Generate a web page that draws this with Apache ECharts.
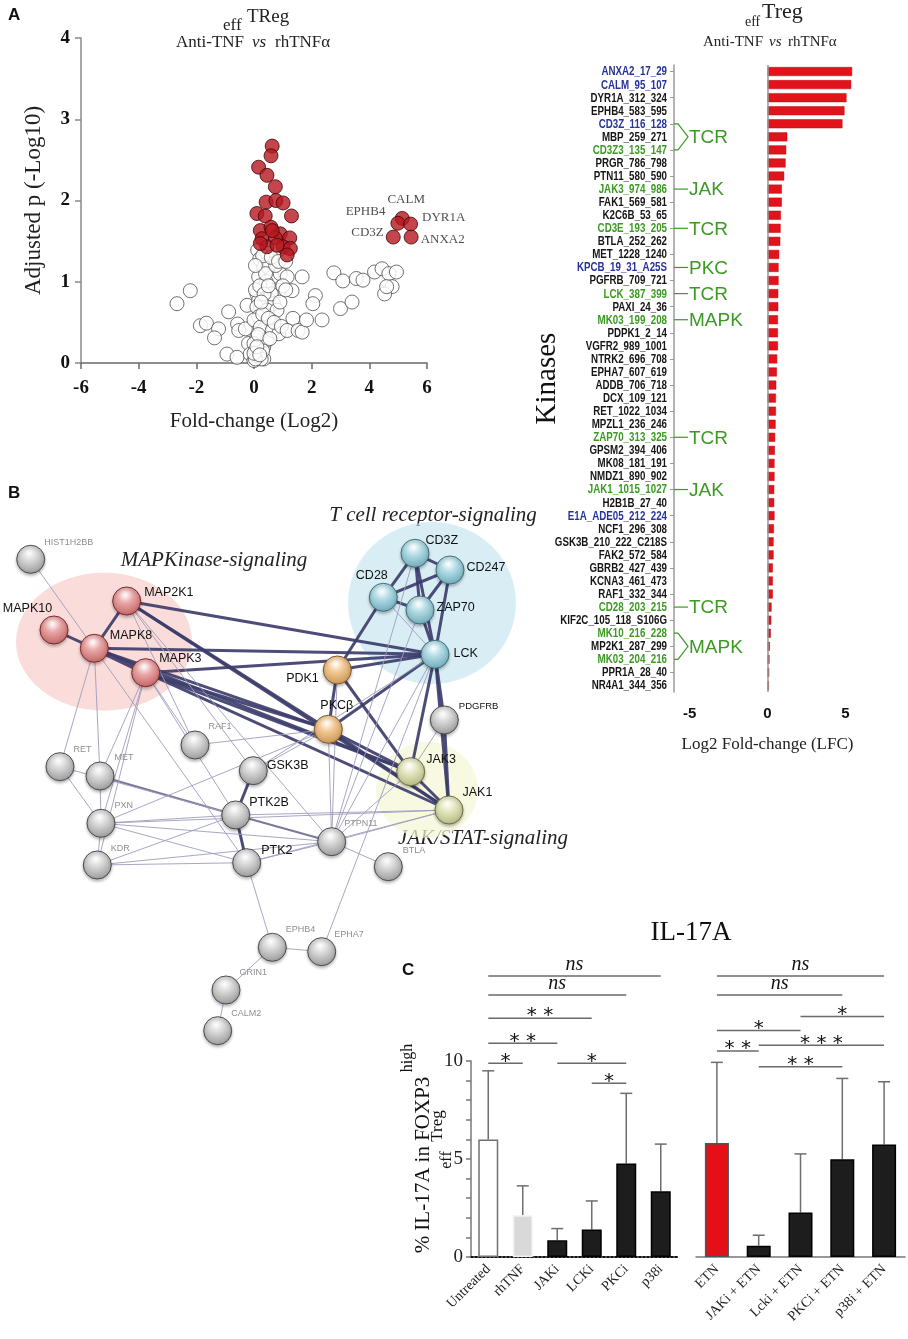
<!DOCTYPE html>
<html><head><meta charset="utf-8">
<script src="https://cdn.jsdelivr.net/npm/echarts@6/dist/echarts.min.js"></script>
<style>html,body{margin:0;padding:0;background:#fff}#c{width:908px;height:1339px}</style>
</head><body><div id="c"></div>
<script>
// ---------------- Panel A (volcano) data ----------------
const volcanoNonSig = [
 [-2.67,0.73],[-2.21,0.89],[-1.86,0.46],[-1.65,0.49],[-1.23,0.42],[-1.37,0.31],[-0.88,0.63],[-0.94,0.11],
 [-0.59,0.07],[-0.57,0.48],[-0.53,0.40],[-0.24,0.71],[-0.30,0.42],[-0.19,0.24],[-0.13,0.11],[0.00,0.03],
 [0.05,0.16],[0.34,0.05],[0.34,0.20],[0.13,1.39],[0.20,1.28],[0.45,1.35],[0.57,1.22],[0.34,1.18],
 [0.16,1.06],[0.63,1.06],[0.42,1.00],[0.91,1.10],[1.15,1.06],[0.86,0.89],[1.32,0.89],[0.10,0.85],
 [0.16,0.77],[0.68,0.73],[0.10,0.69],[0.45,0.65],[0.80,0.65],[0.16,0.57],[0.00,0.53],[0.57,0.53],
 [0.22,0.44],[0.68,0.42],[0.10,0.32],[0.45,0.28],[0.00,0.24],[0.63,0.40],[0.86,0.36],
 [0.05,0.90],[0.20,0.95],[0.30,0.60],[0.50,0.55],[0.60,0.85],[0.70,0.50],[0.90,0.75],[1.00,0.95],
 [0.15,0.35],[0.30,0.15],[0.25,0.05],[0.05,0.05],[0.40,1.10],[0.55,0.30],[1.10,0.90],[0.95,0.45],
 [0.00,0.12],[0.10,0.20],[0.20,0.10],[0.35,0.85],[0.75,1.20],[0.30,1.32],[0.60,1.30],[0.05,1.20],
 [0.85,1.25],[1.10,1.25],[0.50,0.95],[0.25,0.75],
 [1.67,1.06],[1.35,0.55],[1.15,0.40],[1.53,0.40],[1.67,0.38],[1.82,0.53],[2.13,0.83],[2.04,0.73],
 [2.36,0.53],[2.77,1.11],[3.08,1.01],[3.00,0.67],[3.40,0.75],[3.55,1.04],[3.78,1.02],[4.18,1.12],
 [4.44,1.16],[4.68,1.10],[4.94,1.12],[4.79,0.94],[4.53,0.85],[4.60,0.94]
];
const volcanoSig = [
 [0.63,2.67],[0.59,2.55],[0.16,2.41],[0.45,2.31],[0.74,2.17],[0.42,1.98],[0.76,2.00],[1.01,1.97],
 [0.10,1.84],[0.39,1.81],[1.30,1.81],[0.22,1.63],[0.59,1.67],[0.91,1.59],[0.28,1.53],[0.74,1.54],
 [1.24,1.54],[0.45,1.43],[1.01,1.43],[1.26,1.41],[1.15,1.33],[0.80,1.45],[0.22,1.47],[0.63,1.63]
];
const volcanoLabelNames = ['CALM','EPHB4','DYR1A','CD3Z','ANXA2'];
const volcanoLabelLFC   = [5.14, 4.99, 5.43, 4.83, 5.45];
const volcanoLabelP     = [1.78, 1.72, 1.71, 1.55, 1.55];

// ---------------- Panel A (kinase bars) data ----------------
const kinaseNames = ['ANXA2_17_29','CALM_95_107','DYR1A_312_324','EPHB4_583_595','CD3Z_116_128','MBP_259_271',
 'CD3Z3_135_147','PRGR_786_798','PTN11_580_590','JAK3_974_986','FAK1_569_581','K2C6B_53_65','CD3E_193_205',
 'BTLA_252_262','MET_1228_1240','KPCB_19_31_A25S','PGFRB_709_721','LCK_387_399','PAXI_24_36','MK03_199_208',
 'PDPK1_2_14','VGFR2_989_1001','NTRK2_696_708','EPHA7_607_619','ADDB_706_718','DCX_109_121','RET_1022_1034',
 'MPZL1_236_246','ZAP70_313_325','GPSM2_394_406','MK08_181_191','NMDZ1_890_902','JAK1_1015_1027','H2B1B_27_40',
 'E1A_ADE05_212_224','NCF1_296_308','GSK3B_210_222_C218S','FAK2_572_584','GBRB2_427_439','KCNA3_461_473',
 'RAF1_332_344','CD28_203_215','KIF2C_105_118_S106G','MK10_216_228','MP2K1_287_299','MK03_204_216',
 'PPR1A_28_40','NR4A1_344_356'];
const kinaseLFC = [5.43,5.37,5.07,4.94,4.81,1.27,1.20,1.16,1.07,0.92,0.92,0.86,0.84,0.82,0.75,0.71,0.71,0.69,
 0.69,0.67,0.67,0.67,0.62,0.60,0.56,0.54,0.54,0.52,0.49,0.47,0.45,0.45,0.43,0.43,0.45,0.41,0.39,0.39,0.34,0.34,
 0.34,0.26,0.24,0.21,0.15,0.13,0.11,0.09];
const kinaseGroup = ['b','b','k','k','b','k','g','k','k','g','k','k','g','k','k','b','k','g','k','g','k','k','k',
 'k','k','k','k','k','g','k','k','k','g','k','b','k','k','k','k','k','k','g','k','g','k','g','k','k'];
const pathwayNotes = [[4,6,'TCR'],[9,9,'JAK'],[12,12,'TCR'],[15,15,'PKC'],[17,17,'TCR'],[19,19,'MAPK'],
 [28,28,'TCR'],[32,32,'JAK'],[41,41,'TCR'],[43,45,'MAPK']];
const lfcTicks = [-5,0,5];

// ---------------- Panel B (network) data ----------------
const netNodes  = ['HIST1H2BB','MAP2K1','MAPK10','MAPK8','MAPK3','RAF1','RET','MET','GSK3B','PXN','PTK2B','KDR',
 'PTK2','CD3Z','CD247','CD28','ZAP70','LCK','PDK1','PKCβ','PDGFRB','JAK3','JAK1','PTPN11','BTLA','EPHB4','EPHA7',
 'GRIN1','CALM2'];
const netGroups = ['gray','mapk','mapk','mapk','mapk','gray','gray','gray','grayB','gray','grayB','gray','grayB',
 'tcr','tcr','tcr','tcr','tcr','pk','pk','grayS','jak','jak','gray','gray','gray','gray','gray','gray'];
const netLayoutX = [30.7,126.7,54,94.3,145.7,195,60,100,253.3,101,235.7,97.3,246.7,415,450,383.3,420,435,337.3,
 328.3,444.3,410.7,449,331.7,388.3,272.3,321.7,226,217.7];
const netLayoutY = [559.3,601,630,648.3,672.7,745,766.7,776,770.7,823.3,815,865,862.7,553.3,570,597.3,610,654.3,
 670,729.3,720,771.7,810,841.7,866.7,947.3,951.7,990,1030.7];
const strongLinks = [['MAPK10','MAPK8'],['MAP2K1','MAPK8'],['MAP2K1','LCK'],['MAPK8','LCK'],['MAPK3','LCK'],
 ['MAP2K1','PKCβ'],['MAP2K1','JAK1'],['MAPK8','PKCβ'],['MAPK8','JAK3'],['MAPK3','PKCβ'],['MAPK3','JAK3'],
 ['MAPK3','JAK1'],['PDK1','LCK'],['PDK1','PKCβ'],['PDK1','CD28'],['PDK1','JAK3'],['PKCβ','LCK'],['PKCβ','JAK3'],
 ['PKCβ','JAK1'],['LCK','CD3Z'],['LCK','CD247'],['LCK','ZAP70'],['LCK','JAK3'],['LCK','JAK1'],['LCK','PDGFRB'],
 ['CD3Z','CD247'],['CD3Z','CD28'],['CD3Z','ZAP70'],['CD247','CD28'],['CD247','ZAP70'],['CD28','ZAP70'],
 ['JAK3','JAK1'],['PDGFRB','JAK1'],['GSK3B','PTK2B'],['PTK2B','PTK2'],['MAPK8','MAPK3']];
const mediumLinks = [['PTK2B','PTPN11'],['MET','PTK2B']];
const weakLinks = [['HIST1H2BB','MAPK8'],['MAPK8','RET'],['MAPK8','MET'],['MAPK8','PTK2'],['MAP2K1','RAF1'],
 ['MAP2K1','GSK3B'],['MAP2K1','PTPN11'],['MAPK3','RAF1'],['MAPK3','PXN'],['MAPK3','KDR'],['MAPK3','MET'],
 ['MAPK3','PTK2B'],['RET','PXN'],['RET','PTK2B'],['MET','PXN'],['PXN','PTK2B'],['PXN','PTK2'],['PXN','PTPN11'],
 ['PXN','JAK1'],['PXN','PKCβ'],['KDR','PXN'],['KDR','PTK2B'],['KDR','PTK2'],['KDR','PTPN11'],['RAF1','PKCβ'],
 ['GSK3B','PKCβ'],['GSK3B','LCK'],['PTK2B','JAK1'],['PTK2','PTPN11'],['PTK2','JAK1'],['PTPN11','JAK3'],
 ['PTPN11','JAK1'],['PTPN11','LCK'],['PTPN11','CD3Z'],['PTPN11','BTLA'],['PTPN11','PKCβ'],['PTPN11','PDK1'],
 ['PTPN11','ZAP70'],['PDGFRB','JAK3'],['CD28','LCK'],['PTK2','EPHB4'],['EPHB4','EPHA7'],['EPHB4','GRIN1'],
 ['GRIN1','CALM2'],['EPHA7','LCK']];
const clusterNames = ['MAPKinase','TCR','JAKSTAT'];
const clusterCenter = [[104,641.7],[432,603],[427,790]];

// ---------------- Panel C data ----------------
const treatA = ['Untreated','rhTNF','JAKi','LCKi','PKCi','p38i'];
const meanA  = [6.00,2.13,0.85,1.40,4.77,3.36];
const upperA = [9.50,3.63,1.45,2.86,8.35,5.76];
const treatB = ['ETN','JAKi + ETN','Lcki + ETN','PKCi + ETN','p38i + ETN'];
const meanB  = [5.81,0.58,2.27,4.99,5.74];
const upperB = [9.93,1.11,5.26,9.11,8.94];
const sigA = [[0,5,14.34,'ns'],[0,4,13.37,'ns'],[0,3,12.18,'**'],[0,2,10.90,'**'],[0,1,9.88,'*'],[2,4,9.88,'*'],[3,4,8.86,'*']];
const sigB = [[0,4,14.34,'ns'],[0,3,13.37,'ns'],[2,4,12.27,'*'],[0,2,11.55,'*'],[1,4,10.80,'***'],[0,1,10.51,'**'],[1,3,9.71,'**']];
const pctTicks = [0,5,10];

// ---------------- styles ----------------
const SERIF = 'Liberation Serif, DejaVu Serif, serif';
const SANS = 'Liberation Sans, Arial, sans-serif';
const groupColor = {k:'#151515', b:'#26339a', g:'#3b9a22'};
const nodePalette = {
  mapk:['#e9a5a5','#b85555','#7b2a2a'], tcr:['#b2dbe4','#5f9fb0','#3f6f7c'],
  pk:['#f1c894','#c08a45','#7e5a2a'], jak:['#e3e6bd','#a8ad72','#6b6e45'],
  gray:['#d6d6d6','#8c8c8c','#4c4c4c'], grayB:['#d6d6d6','#8c8c8c','#4c4c4c'], grayS:['#d6d6d6','#8c8c8c','#4c4c4c']
};
const netLabelStyle = {
  HIST1H2BB:[14,-16,'left'], MAP2K1:[18,-8,'left'], MAPK10:[-26,-21,'center'], MAPK8:[16,-12,'left'],
  MAPK3:[14,-14,'left'], RAF1:[14,-18,'left'], RET:[14,-17,'left'], MET:[15,-18,'left'], GSK3B:[14,-5,'left'],
  PXN:[14,-17,'left'], PTK2B:[14,-12,'left'], KDR:[14,-16,'left'], PTK2:[15,-12,'left'], CD3Z:[11,-12,'left'],
  CD247:[17,-2,'left'], CD28:[-11,-21,'center'], ZAP70:[17,-2,'left'], LCK:[19,0,'left'], PDK1:[-18,9,'right'],
  'PKCβ':[9,-23,'center'], PDGFRB:[15,-13,'left'], JAK3:[16,-12,'left'], JAK1:[14,-17,'left'], PTPN11:[13,-18,'left'],
  BTLA:[15,-16,'left'], EPHB4:[14,-17,'left'], EPHA7:[13,-17,'left'], GRIN1:[14,-17,'left'], CALM2:[14,-17,'left']
};
const clusterStyle = {
  MAPKinase:{size:[176,138], color:'rgba(246,196,194,0.75)'},
  TCR:{size:[168,162], color:'rgba(196,228,238,0.8)'},
  JAKSTAT:{size:[102,96], color:'rgba(244,246,214,0.9)'}
};

const NODE = 28;
const netData = netNodes.map((n,i)=>{
  const g = netGroups[i], pal = nodePalette[g], ls = netLabelStyle[n];
  const minor = (g==='gray');
  return {
    name:n, value:[netLayoutX[i], netLayoutY[i]], symbolSize:NODE,
    itemStyle:{color:{type:'radial',x:0.45,y:0.3,r:0.8,colorStops:[{offset:0,color:'#ffffff'},{offset:0.35,color:pal[0]},{offset:1,color:pal[1]}]},
      borderColor:pal[2], borderWidth:1, shadowColor:'rgba(0,0,0,0.25)', shadowBlur:3, shadowOffsetY:2},
    label:{show:true, position:[NODE/2+ls[0], NODE/2+ls[1]], align:ls[2], verticalAlign:'middle',
      color: minor ? '#8e8e8e' : '#111', fontFamily:SANS, fontSize: minor ? 9 : (g==='grayS' ? 9.5 : 12.5)}
  };
});
const netLinks = [].concat(
  strongLinks.map(([s,t])=>({source:s,target:t,lineStyle:{width:(s==='MAPK8'&&t==='MAPK3')?5:3,color:'#3d3d6d',opacity:0.92}})),
  mediumLinks.map(([s,t])=>({source:s,target:t,lineStyle:{width:2,color:'#6a6a90',opacity:0.9}})),
  weakLinks.map(([s,t])=>({source:s,target:t,lineStyle:{width:1,color:'#9d9dbd',opacity:0.9}}))
);

const chart = echarts.init(document.getElementById('c'), null, {renderer:'canvas', width:908, height:1339});

const option = {
  animation:false,
  backgroundColor:'#fff',
  grid:[
    {left:81, top:38, width:346, height:325},
    {left:674, top:65, width:187, height:627},
    {left:471, top:1061, width:207, height:196},
    {left:696, top:1061, width:209, height:196},
    {left:0, top:0, width:908, height:1339}
  ],
  xAxis:[
    {gridIndex:0, type:'value', min:-6, max:6, interval:2,
     axisLine:{onZero:false, lineStyle:{color:'#6a6a6a', width:1.5}}, axisTick:{length:6, lineStyle:{color:'#6a6a6a', width:1.5}},
     axisLabel:{fontFamily:SERIF, fontWeight:'bold', fontSize:19, color:'#111', margin:16}, splitLine:{show:false},
     name:'Fold-change (Log2)', nameLocation:'middle', nameGap:48, nameTextStyle:{fontFamily:SERIF, fontSize:21, color:'#222'}},
    {gridIndex:1, type:'value', min:-6, max:6,
     axisLine:{onZero:false, lineStyle:{color:'#9a9a9a', width:1.5}}, axisTick:{customValues:lfcTicks, length:0},
     axisLabel:{customValues:lfcTicks, fontFamily:SANS, fontWeight:'bold', fontSize:15, color:'#111', margin:14}, splitLine:{show:false},
     name:'Log2 Fold-change (LFC)', nameLocation:'middle', nameGap:44, nameTextStyle:{fontFamily:SERIF, fontSize:17, color:'#222'}},
    {gridIndex:2, type:'category', data:treatA,
     axisLine:{lineStyle:{color:'#111', width:2, type:'dotted'}}, axisTick:{alignWithLabel:true, length:6, lineStyle:{color:'#777', width:1.5}},
     axisLabel:{rotate:45, interval:0, fontFamily:SERIF, fontSize:14, color:'#222', margin:10}},
    {gridIndex:3, type:'category', data:treatB,
     axisLine:{lineStyle:{color:'#777', width:1.5}}, axisTick:{alignWithLabel:true, length:6, lineStyle:{color:'#777', width:1.5}},
     axisLabel:{rotate:45, interval:0, fontFamily:SERIF, fontSize:14, color:'#222', margin:10}},
    {gridIndex:4, type:'value', min:0, max:908, show:false}
  ],
  yAxis:[
    {gridIndex:0, type:'value', min:0, max:4, interval:1,
     axisLine:{show:true, onZero:false, lineStyle:{color:'#8a8a8a', width:1.5}}, axisTick:{show:true, length:6, lineStyle:{color:'#8a8a8a', width:1.5}},
     axisLabel:{fontFamily:SERIF, fontWeight:'bold', fontSize:19, color:'#111', margin:11}, splitLine:{show:false},
     name:'Adjusted p (-Log10)', nameLocation:'middle', nameRotate:90, nameGap:36, nameTextStyle:{fontFamily:SERIF, fontSize:23, color:'#222'}},
    {gridIndex:1, type:'category', data:kinaseNames, inverse:true,
     axisLine:{show:true, onZero:false, lineStyle:{color:'#9a9a9a', width:1.5}}, axisTick:{show:true, alignWithLabel:true, length:4, lineStyle:{color:'#9a9a9a'}},
     axisLabel:{show:false},
     name:'Kinases', nameLocation:'middle', nameRotate:90, nameGap:112, nameTextStyle:{fontFamily:SERIF, fontSize:29, color:'#111'}},
    {gridIndex:2, type:'value', min:0, max:10, interval:1,
     axisLine:{show:true, lineStyle:{color:'#777', width:1.5}}, axisTick:{show:true, length:5, lineStyle:{color:'#777', width:1.5}},
     axisLabel:{customValues:pctTicks, fontFamily:SERIF, fontSize:19, color:'#222', margin:8}, splitLine:{show:false}},
    {gridIndex:3, type:'value', min:0, max:10, interval:1, show:false},
    {gridIndex:4, type:'value', min:0, max:1339, inverse:true, show:false}
  ],
  series:[
    // volcano
    {type:'scatter', xAxisIndex:0, yAxisIndex:0, data:volcanoNonSig, symbolSize:14, z:2,
     itemStyle:{color:'#fff', borderColor:'#4d4d4d', borderWidth:1}},
    {type:'scatter', xAxisIndex:0, yAxisIndex:0, data:volcanoSig, symbolSize:14, z:3,
     itemStyle:{color:'#b7161f', borderColor:'#3c0707', borderWidth:1}},
    {type:'scatter', xAxisIndex:0, yAxisIndex:0, symbolSize:14, z:4,
     itemStyle:{color:'#b7161f', borderColor:'#3c0707', borderWidth:1},
     data:volcanoLabelNames.map((n,i)=>{
       const pos = {CALM:['top',[4,-1]], EPHB4:['left',[-1,-12]], DYR1A:['right',[0,-6]], CD3Z:['left',[2,-4]], ANXA2:['right',[-2,3]]}[n];
       return {name:n, value:[volcanoLabelLFC[i], volcanoLabelP[i]], label:{show:true, formatter:'{b}', position:pos[0], offset:pos[1], distance:4,
         fontFamily:SERIF, fontSize:13, color:'#222'}};
     })},
    // kinase bars
    {type:'bar', xAxisIndex:1, yAxisIndex:1, data:kinaseLFC, barWidth:9,
     itemStyle:{color:'#e3131b', borderColor:'#b50d13', borderWidth:0.5},
     markLine:{silent:true, symbol:'none', label:{show:false}, lineStyle:{color:'#9a9a9a', width:1.5, type:'solid'}, data:[{xAxis:0}]}},
    // kinase names (condensed text labels)
    {type:'custom', xAxisIndex:1, yAxisIndex:1, clip:false, z:5,
     data:kinaseNames.map((n,i)=>[-6,i]), encode:{x:0, y:1},
     renderItem:(params, api)=>{
       const i = params.dataIndex;
       const p = api.coord([-6, i]);
       return {type:'text', x:p[0]-7, y:p[1]+0.5, scaleX:0.78,
         style:{text:kinaseNames[i], x:0, y:0, textAlign:'right', textVerticalAlign:'middle',
           fill:groupColor[kinaseGroup[i]], font:'bold 12.5px '+SANS}};
     }},
    {type:'custom', xAxisIndex:1, yAxisIndex:1, clip:false, z:5,
     data:pathwayNotes.map(p=>[-6,p[0],p[1]]), encode:{x:0, y:1},
     renderItem:(params, api)=>{
       const note = pathwayNotes[params.dataIndex];
       const p1 = api.coord([-6, note[0]]), p2 = api.coord([-6, note[1]]);
       const x0 = p1[0], col = '#3b9a22';
       const mid = (p1[1]+p2[1])/2;
       const kids = [];
       if (note[0]===note[1]) {
         kids.push({type:'line', shape:{x1:x0, y1:p1[1], x2:x0+14, y2:p1[1]}, style:{stroke:col, lineWidth:1.2}});
       } else {
         kids.push({type:'polyline', shape:{points:[[x0,p1[1]],[x0+4,p1[1]],[x0+14,mid],[x0+4,p2[1]],[x0,p2[1]]]}, style:{stroke:col, lineWidth:1.2, fill:'none'}});
       }
       kids.push({type:'text', style:{text:note[2], x:x0+15, y:mid+1, textAlign:'left', textVerticalAlign:'middle', fill:col, font:'19px '+SANS}});
       return {type:'group', children:kids};
     }},
    // panel C left bars
    {type:'bar', xAxisIndex:2, yAxisIndex:2, barWidth:20, z:2,
     data:meanA.map((v,i)=>({value:v, itemStyle:{
       color:['#ffffff','#d9d9d9','#1d1d1d','#1d1d1d','#1d1d1d','#1d1d1d'][i],
       borderColor:['#707070','#f2f2f2','#000','#000','#000','#000'][i], borderWidth:1.5}}))},
    {type:'bar', xAxisIndex:3, yAxisIndex:3, barWidth:24, z:2,
     data:meanB.map((v,i)=>({value:v, itemStyle:{
       color:['#e40f17','#1d1d1d','#1d1d1d','#1d1d1d','#1d1d1d'][i],
       borderColor:['#3f5a5a','#000','#000','#000','#000'][i], borderWidth:1.5}}))},
    // error bars
    ...[[2,meanA,upperA],[3,meanB,upperB]].map(([ax,m,u])=>({
      type:'custom', xAxisIndex:ax, yAxisIndex:ax, clip:false, z:1,
      data:m.map((v,i)=>[i,v,u[i]]), encode:{x:0, y:[1,2]},
      renderItem:(params, api)=>{
        const i = api.value(0);
        const a = api.coord([i, api.value(1)]), b = api.coord([i, api.value(2)]);
        return {type:'group', children:[
          {type:'line', shape:{x1:a[0], y1:a[1], x2:b[0], y2:b[1]}, style:{stroke:'#6e6e6e', lineWidth:1.5}},
          {type:'line', shape:{x1:b[0]-6, y1:b[1], x2:b[0]+6, y2:b[1]}, style:{stroke:'#6e6e6e', lineWidth:1.5}}
        ]};
      }})),
    // significance brackets
    ...[[2,sigA],[3,sigB]].map(([ax,sig])=>({
      type:'custom', xAxisIndex:ax, yAxisIndex:ax, clip:false, z:3,
      data:sig.map(s=>[s[0],s[2],s[1]]), encode:{x:0, y:1},
      renderItem:(params, api)=>{
        const s = sig[params.dataIndex];
        const a = api.coord([s[0], s[2]]), b = api.coord([s[1], s[2]]);
        const cx = (a[0]+b[0])/2;
        const isNs = s[3]==='ns';
        return {type:'group', children:[
          {type:'line', shape:{x1:a[0], y1:a[1], x2:b[0], y2:b[1]}, style:{stroke:'#6a6a6a', lineWidth:1.5}},
          {type:'text', style:{text: isNs ? 'ns' : s[3].split('').join(' '), x:cx, y: isNs ? a[1]-11 : a[1]-2,
            textAlign:'center', textVerticalAlign:'middle', fill:'#111',
            font: isNs ? 'italic 20px '+SERIF : '20px DejaVu Sans, sans-serif'}}
        ]};
      }})),
    // network background clusters
    {type:'scatter', xAxisIndex:4, yAxisIndex:4, z:0, silent:true,
     data:clusterNames.map((n,i)=>({value:clusterCenter[i], symbolSize:clusterStyle[n].size, itemStyle:{color:clusterStyle[n].color}}))},
    // network
    {type:'graph', coordinateSystem:'cartesian2d', xAxisIndex:4, yAxisIndex:4, z:3,
     data:netData, links:netLinks, edgeSymbol:['none','none'], roam:false, silent:true,
     lineStyle:{curveness:0}, emphasis:{disabled:true}}
  ],
  graphic:[
    {type:'text', style:{text:'A', x:8, y:15, textVerticalAlign:'middle', font:'bold 17px '+SANS, fill:'#111'}},
    {type:'text', style:{text:'B', x:8, y:493, textVerticalAlign:'middle', font:'bold 17px '+SANS, fill:'#111'}},
    {type:'text', style:{text:'C', x:402, y:970, textVerticalAlign:'middle', font:'bold 17px '+SANS, fill:'#111'}},
    // volcano title
    {type:'text', style:{text:'eff', x:223, y:26, textVerticalAlign:'middle', font:'17px '+SERIF, fill:'#222'}},
    {type:'text', style:{text:'TReg', x:247, y:17, textVerticalAlign:'middle', font:'19px '+SERIF, fill:'#222'}},
    {type:'text', style:{text:'Anti-TNF', x:176, y:43, textVerticalAlign:'middle', font:'17px '+SERIF, fill:'#222'}},
    {type:'text', style:{text:'vs', x:252, y:43, textVerticalAlign:'middle', font:'italic 17px '+SERIF, fill:'#222'}},
    {type:'text', style:{text:'rhTNFα', x:275, y:43, textVerticalAlign:'middle', font:'17px '+SERIF, fill:'#222'}},
    // kinase title
    {type:'text', style:{text:'eff', x:745, y:22, textVerticalAlign:'middle', font:'14px '+SERIF, fill:'#222'}},
    {type:'text', style:{text:'Treg', x:762, y:12, textVerticalAlign:'middle', font:'22px '+SERIF, fill:'#222'}},
    {type:'text', style:{text:'Anti-TNF', x:703, y:42, textVerticalAlign:'middle', font:'15px '+SERIF, fill:'#222'}},
    {type:'text', style:{text:'vs', x:769, y:42, textVerticalAlign:'middle', font:'italic 15px '+SERIF, fill:'#222'}},
    {type:'text', style:{text:'rhTNFα', x:788, y:42, textVerticalAlign:'middle', font:'15px '+SERIF, fill:'#222'}},
    // network headings
    {type:'text', style:{text:'MAPKinase-signaling', x:214, y:560, textAlign:'center', textVerticalAlign:'middle', font:'italic 21px '+SERIF, fill:'#222'}},
    {type:'text', style:{text:'T cell receptor-signaling', x:433, y:515, textAlign:'center', textVerticalAlign:'middle', font:'italic 21px '+SERIF, fill:'#222'}},
    {type:'text', style:{text:'JAK/STAT-signaling', x:483, y:838, textAlign:'center', textVerticalAlign:'middle', font:'italic 21px '+SERIF, fill:'#222'}},
    // panel C title
    {type:'text', style:{text:'IL-17A', x:691, y:933, textAlign:'center', textVerticalAlign:'middle', font:'27px '+SERIF, fill:'#111'}},
    // panel C y-axis name (rotated)
    {type:'text', x:423, y:1165, rotation:Math.PI/2, style:{text:'% IL-17A in FOXP3', x:0, y:0, textAlign:'center', textVerticalAlign:'middle', font:'21px '+SERIF, fill:'#111'}},
    {type:'text', x:408, y:1058, rotation:Math.PI/2, style:{text:'high', x:0, y:0, textAlign:'center', textVerticalAlign:'middle', font:'16px '+SERIF, fill:'#111'}},
    {type:'text', x:447, y:1160, rotation:Math.PI/2, style:{text:'eff', x:0, y:0, textAlign:'center', textVerticalAlign:'middle', font:'16px '+SERIF, fill:'#111'}},
    {type:'text', x:438, y:1126, rotation:Math.PI/2, style:{text:'Treg', x:0, y:0, textAlign:'center', textVerticalAlign:'middle', font:'17px '+SERIF, fill:'#111'}}
  ]
};
chart.setOption(option);
</script></body></html>
